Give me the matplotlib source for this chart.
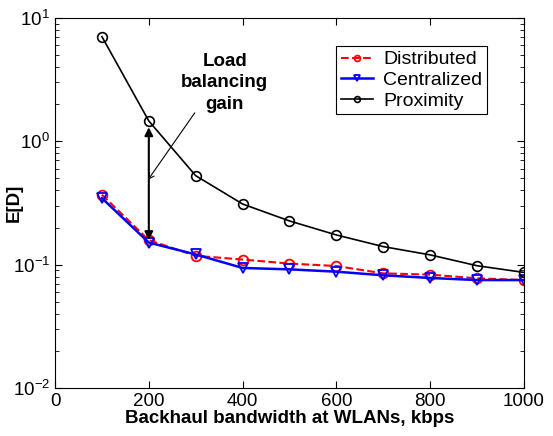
import matplotlib
matplotlib.use("Agg")
import matplotlib.pyplot as plt

plt.rcParams['font.family'] = ['Liberation Sans', 'DejaVu Sans']

# Backhaul bandwidth (kbps)
bandwidth = [100, 200, 300, 400, 500, 600, 700, 800, 900, 1000]

# Expected delay E[D]
distributed = [0.369, 0.158, 0.118, 0.110, 0.102, 0.0975, 0.085, 0.083, 0.0775, 0.075]
centralized = [0.346, 0.151, 0.121, 0.094, 0.0916, 0.0877, 0.082, 0.078, 0.075, 0.075]
proximity = [7.05, 1.46, 0.526, 0.31, 0.226, 0.174, 0.14, 0.12, 0.098, 0.0865]

fig = plt.figure(figsize=(5.53, 4.36), dpi=100)
ax = fig.add_axes([0.0995, 0.110, 0.848, 0.849])

ax.semilogy(bandwidth, distributed, 'r--o', lw=1.5, ms=7, mfc='none', mew=1.3, label='Distributed')
ax.semilogy(bandwidth, centralized, 'b-v', lw=1.8, ms=7, mfc='none', mew=1.3, label='Centralized')
ax.semilogy(bandwidth, proximity, 'k-o', lw=1.2, ms=7, mfc='none', mew=1.2, label='Proximity')

ax.set_xlim(0, 1000)
ax.set_ylim(1e-2, 1e1)
ax.set_xticks([0, 200, 400, 600, 800, 1000])
ax.tick_params(which='both', direction='in', top=True, right=True, labelsize=13.5)
ax.tick_params(which='major', length=5)
ax.tick_params(which='minor', length=3)

ax.set_xlabel('Backhaul bandwidth at WLANs, kbps', fontsize=13.5, fontweight='bold', labelpad=0)
ax.set_ylabel('E[D]', fontsize=13.5, fontweight='bold')
ax.yaxis.set_label_coords(-0.068, 0.5)

# load balancing gain arrow
ax.annotate('', xy=(200, 1.3), xytext=(200, 0.158),
            arrowprops=dict(arrowstyle='<|-|>', color='k', lw=1.5, mutation_scale=12,
                            shrinkA=0, shrinkB=0))
ax.annotate('', xy=(198, 0.485), xytext=(298, 1.7),
            arrowprops=dict(arrowstyle='->', color='k', lw=0.8, shrinkA=0, shrinkB=0))
ax.text(362, 2.97, 'Load\nbalancing\ngain', ha='center', va='center',
        fontsize=13.5, fontweight='bold', linespacing=1.35)

leg = ax.legend(loc='upper right', bbox_to_anchor=(0.921, 0.924), fontsize=14,
                fancybox=False, edgecolor='k', framealpha=1, handlelength=1.65,
                borderpad=0.25, labelspacing=0.15, handletextpad=0.5,
                borderaxespad=0, markerscale=0.6)
leg.get_frame().set_linewidth(0.8)

fig.savefig('out.png', dpi=100)
